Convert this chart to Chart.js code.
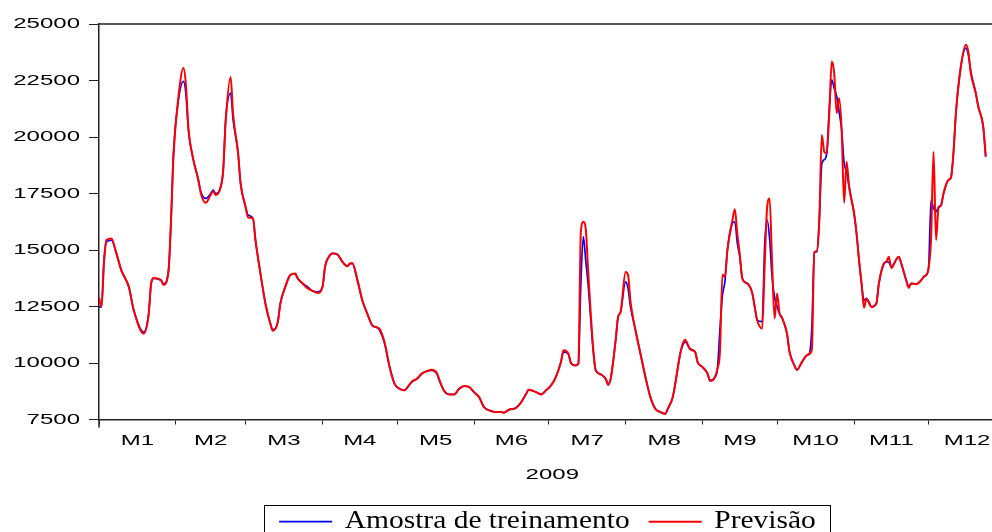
<!DOCTYPE html>
<html>
<head>
<meta charset="utf-8">
<script src="https://cdn.jsdelivr.net/npm/chart.js@4.4.1/dist/chart.umd.min.js"></script>
<style>
  html, body { margin: 0; padding: 0; background: #fff; overflow: hidden; width: 992px; height: 532px; }
  #quadro { position: relative; width: 1100px; height: 545px; }
</style>
</head>
<body>
<div id="quadro"><canvas id="grafico" width="1100" height="545"></canvas></div>
<script>
// Dia do ano (0 = 1 de janeiro de 2009)
const dias = [
  0, 1, 2, 3, 5, 7, 9, 12, 14, 18, 20, 21, 22, 25, 26, 28, 29, 30, 32, 34, 35, 36, 38, 40, 41, 43, 45, 46, 47, 49,
  50, 51, 53, 54, 56, 57, 59, 60, 62, 63, 65, 67, 69, 70, 72, 73, 75, 77, 79, 80, 82, 84, 86, 88, 90, 91, 93, 94, 96, 98,
  100, 101, 102, 104, 106, 108, 110, 112, 113, 115, 117, 119, 121, 123, 124, 126, 128, 130, 132, 134, 136, 137, 139, 141, 143, 145, 147, 149,
  151, 153, 155, 158, 160, 162, 163, 165, 168, 170, 172, 173, 176, 178, 180, 182, 184, 186, 187, 189, 190, 192, 193, 194, 195, 196, 197, 199,
  200, 202, 204, 205, 206, 208, 209, 210, 212, 213, 214, 216, 218, 220, 222, 224, 226, 228, 229, 231, 232, 234, 235, 236, 238, 240, 241, 243, 245, 246, 248, 249,
  250, 251, 252, 253, 255, 256, 257, 258, 259, 261, 263, 264, 265, 267, 268, 269, 270, 271, 272, 273, 274, 275, 277, 278, 280, 281, 283, 285, 286, 287, 288, 289,
  290, 291, 292, 293, 294, 295, 296, 297, 298, 299, 300, 301, 302, 304, 305, 306, 307, 308, 309, 310, 311, 313, 314, 316, 317, 318, 319, 321, 322, 323, 325, 326, 327, 329,
  331, 332, 333, 334, 335, 336, 337, 338, 339, 340, 342, 343, 344, 345, 347, 349, 350, 351, 353, 354, 356, 357
];

// Série observada (amostra de treinamento)
const amostra = [
  12480, 12480, 14550, 15360, 15440, 14850, 14100, 13370, 12330, 11370, 12200, 13500, 13740, 13660, 13500, 14100, 16320, 19280, 21650, 22460, 21900, 20300, 18980, 18100, 17580, 17280, 17500, 17650, 17500, 17800,
  18540, 20760, 21940, 20760, 19280, 17950, 16920, 16550, 16400, 15440, 13960, 12630, 11740, 11480, 11820, 12630, 13370, 13890, 13960, 13740, 13520, 13370, 13190, 13150, 13370, 14250, 14770, 14850, 14800, 14480,
  14280, 14400, 14400, 13660, 12780, 12190, 11670, 11570, 11450, 10860, 9820, 9080, 8860, 8790, 8900, 9160, 9300, 9530, 9640, 9670, 9530, 9230, 8760, 8610, 8610, 8860, 8980, 8940,
  8710, 8490, 8050, 7870, 7830, 7830, 7800, 7930, 8020, 8270, 8640, 8820, 8710, 8610, 8790, 9010, 9400, 10050, 10490, 10400, 10000, 9890, 9970, 13500, 15590, 14500, 13370, 10500,
  9670, 9500, 9300, 9080, 9300, 11000, 12040, 12260, 13590, 13300, 12480, 11450, 10410, 9380, 8490, 7970, 7830, 7750, 7970, 8490, 9080, 10410, 10780, 10930, 10630, 10490, 10040, 9820, 9530, 9230, 9380, 9750,
  11500, 13000, 13600, 14990, 16180, 16250, 15300, 14700, 13740, 13520, 13100, 12480, 11900, 11830, 15200, 16320, 15500, 13800, 12900, 12500, 12190, 12000, 11300, 10500, 9890, 9700, 10040, 10340, 10410, 11590, 14900, 14920,
  16320, 18800, 19000, 19280, 21200, 22530, 22160, 21800, 21100, 20310, 18840, 18460, 17800, 16620, 15730, 14550, 13520, 12780, 12850, 12700, 12480, 12650, 13520, 14400, 14480, 14450, 14260, 14580, 14700, 14400, 13660, 13370, 13520, 13490,
  13660, 13810, 13890, 14200, 17210, 16840, 16700, 16890, 16970, 17500, 18100, 18200, 19280, 21050, 23120, 23930, 23640, 22900, 21940, 21350, 20460, 19130
];

// Série prevista pelo modelo
const previsao = [
  12900, 12480, 14400, 15440, 15510, 14850, 14100, 13370, 12330, 11300, 12150, 13550, 13760, 13660, 13450, 14100, 16300, 19200, 21800, 23050, 22300, 20400, 19000, 18100, 17500, 17090, 17450, 17600, 17430, 17800,
  18500, 20700, 22650, 21000, 19280, 17950, 16920, 16440, 16400, 15440, 13960, 12630, 11740, 11430, 11820, 12630, 13370, 13890, 13960, 13740, 13520, 13300, 13190, 13100, 13370, 14250, 14770, 14850, 14800, 14480,
  14280, 14400, 14420, 13700, 12780, 12190, 11670, 11570, 11500, 10900, 9820, 9080, 8860, 8790, 8900, 9180, 9300, 9530, 9640, 9700, 9560, 9260, 8760, 8610, 8610, 8860, 8980, 8940,
  8710, 8490, 8050, 7870, 7830, 7830, 7800, 7930, 8020, 8270, 8640, 8820, 8710, 8610, 8790, 9010, 9400, 10050, 10560, 10400, 10000, 9890, 9970, 15800, 16250, 15900, 13960, 10600,
  9670, 9500, 9300, 9030, 9300, 11000, 12040, 12260, 14030, 13900, 12700, 11450, 10410, 9380, 8490, 7970, 7830, 7750, 7970, 8490, 9080, 10410, 10850, 11030, 10600, 10490, 10040, 9820, 9530, 9200, 9380, 9750,
  10500, 13900, 13810, 15000, 16300, 16800, 15700, 14800, 13740, 13520, 13100, 12480, 11890, 11520, 14300, 16900, 17280, 14400, 11960, 13070, 12190, 12000, 11300, 10500, 9890, 9700, 10040, 10340, 10410, 10600, 14900, 14950,
  16320, 20090, 19350, 19280, 21000, 23340, 22830, 21050, 21720, 20310, 17090, 18910, 17800, 16620, 15730, 14550, 13520, 12450, 12850, 12650, 12480, 12650, 13520, 14400, 14480, 14700, 14200, 14580, 14700, 14400, 13660, 13320, 13520, 13490,
  13660, 13810, 13890, 14200, 15500, 19350, 15440, 16890, 16970, 17500, 18100, 18200, 19280, 21050, 23120, 24080, 23780, 22830, 21940, 21350, 20460, 19130
];

// Eixos
const inicioMes = [0, 31, 59, 90, 120, 151, 181, 212, 243, 273, 304, 334, 365];
const rotulosMes = ['M1', 'M2', 'M3', 'M4', 'M5', 'M6', 'M7', 'M8', 'M9', 'M10', 'M11', 'M12'];
const anoRotulo = '2009';
const ticksY = [7500, 10000, 12500, 15000, 17500, 20000, 22500, 25000];
const nomesSeries = ['Amostra de treinamento', 'Previsão'];

const meioMes = rotulosMes.map((_, i) => (inicioMes[i] + inicioMes[i + 1]) / 2);
const meioAno = (inicioMes[0] + inicioMes[inicioMes.length - 1]) / 2;

const canvas = document.getElementById('grafico');
const ctx = canvas.getContext('2d');

// Letreiro largo: o texto é alargado na horizontal (medida e desenho coerentes)
const LARGURA_SANS = 1.6;
const LARGURA_SERIF = 1.18;
const fatorLargura = f => (/Serif/.test(f) ? LARGURA_SERIF : LARGURA_SANS);
const fillOrig = ctx.fillText.bind(ctx);
const measureOrig = ctx.measureText.bind(ctx);
ctx.fillText = function (t, x, y) {
  const k = fatorLargura(ctx.font);
  ctx.save();
  ctx.translate(x, y);
  ctx.scale(k, 1);
  fillOrig(t, 0, 0);
  ctx.restore();
};
ctx.measureText = function (t) {
  const m = measureOrig(t);
  const k = fatorLargura(ctx.font);
  return {
    width: m.width * k,
    actualBoundingBoxAscent: m.actualBoundingBoxAscent,
    actualBoundingBoxDescent: m.actualBoundingBoxDescent,
    actualBoundingBoxLeft: m.actualBoundingBoxLeft * k,
    actualBoundingBoxRight: m.actualBoundingBoxRight * k,
    fontBoundingBoxAscent: m.fontBoundingBoxAscent,
    fontBoundingBoxDescent: m.fontBoundingBoxDescent
  };
};

const fonteSans = { family: 'Liberation Sans', size: 15 };
const corEixo = '#222';

// Moldura superior da área do gráfico e caixa da legenda
const moldura = {
  id: 'moldura',
  afterDatasetsDraw(chart) {
    const a = chart.chartArea;
    const c = chart.ctx;
    c.save();
    c.strokeStyle = corEixo;
    c.lineWidth = 1.5;
    c.beginPath();
    c.moveTo(a.left, a.top);
    c.lineTo(a.right, a.top);
    c.moveTo(a.left, a.bottom);
    c.lineTo(a.left, a.bottom + 8);
    c.stroke();
    c.restore();
  },
  afterDraw(chart) {
    const hb = chart.legend.legendHitBoxes;
    if (!hb || !hb.length) return;
    const first = hb[0], last = hb[hb.length - 1];
    const cy = first.top + first.height / 2;
    const c = chart.ctx;
    c.save();
    c.strokeStyle = '#000';
    c.lineWidth = 1;
    const x0 = Math.round(first.left - 15) + 0.5;
    const x1 = Math.round(last.left + last.width + 14) + 0.5;
    const y0 = Math.round(cy - 16.7) + 0.5;
    const y1 = Math.round(cy + 16.7) + 0.5;
    c.strokeRect(x0, y0, x1 - x0, y1 - y0);
    c.restore();
  }
};

new Chart(ctx, {
  type: 'line',
  data: {
    datasets: [
      {
        label: nomesSeries[0],
        data: dias.map((d, i) => ({ x: d, y: amostra[i] })),
        borderColor: '#0000ff',
        backgroundColor: '#0000ff',
        borderWidth: 1.7,
        pointRadius: 0,
        cubicInterpolationMode: 'monotone',
        order: 2
      },
      {
        label: nomesSeries[1],
        data: dias.map((d, i) => ({ x: d, y: previsao[i] })),
        borderColor: '#ff0000',
        backgroundColor: '#ff0000',
        borderWidth: 2,
        pointRadius: 0,
        cubicInterpolationMode: 'monotone',
        order: 1
      }
    ]
  },
  options: {
    responsive: false,
    animation: false,
    devicePixelRatio: 1,
    layout: { padding: { left: 0, top: 24, right: 5, bottom: 0.8 } },
    plugins: {
      tooltip: { enabled: false },
      legend: {
        position: 'bottom',
        labels: {
          usePointStyle: true,
          pointStyle: 'line',
          pointStyleWidth: 53,
          padding: 19,
          color: '#000',
          font: { family: 'Liberation Serif', size: 25 },
          sort: (a, b) => a.datasetIndex - b.datasetIndex
        }
      }
    },
    scales: {
      x: {
        type: 'linear',
        position: 'bottom',
        min: 0,
        max: 401,
        weight: 0,
        afterBuildTicks: s => { s.ticks = inicioMes.map(v => ({ value: v })); },
        afterFit: s => { s.height = 5; },
        ticks: { display: false },
        grid: { drawOnChartArea: false, drawTicks: true, tickLength: 5, color: corEixo, lineWidth: 1 },
        border: { display: true, color: corEixo, width: 1.5 }
      },
      xm: {
        type: 'linear',
        position: 'bottom',
        min: 0,
        max: 401,
        weight: 1,
        afterBuildTicks: s => { s.ticks = meioMes.map(v => ({ value: v })); },
        afterFit: s => { s.height = 30; },
        ticks: {
          autoSkip: false,
          maxRotation: 0,
          padding: 7.5,
          color: '#000',
          font: fonteSans,
          callback: (v, i) => rotulosMes[i]
        },
        grid: { display: false, drawTicks: false },
        border: { display: false }
      },
      xano: {
        type: 'linear',
        position: 'bottom',
        min: 0,
        max: 401,
        weight: 2,
        afterBuildTicks: s => { s.ticks = [{ value: meioAno }]; },
        afterFit: s => { s.height = 35.7; },
        ticks: {
          autoSkip: false,
          maxRotation: 0,
          padding: 11.5,
          color: '#000',
          font: fonteSans,
          callback: () => anoRotulo
        },
        grid: { display: false, drawTicks: false },
        border: { display: false }
      },
      y: {
        type: 'linear',
        min: 7500,
        max: 25000,
        afterBuildTicks: s => { s.ticks = ticksY.map(v => ({ value: v })); },
        afterFit: s => { s.width = 99; },
        ticks: { padding: 9, color: '#000', font: fonteSans, callback: v => String(v) },
        grid: { drawOnChartArea: false, drawTicks: true, tickLength: 10, color: corEixo, lineWidth: 1 },
        border: { display: true, color: corEixo, width: 1.5 }
      }
    }
  },
  plugins: [moldura]
});
</script>
</body>
</html>
